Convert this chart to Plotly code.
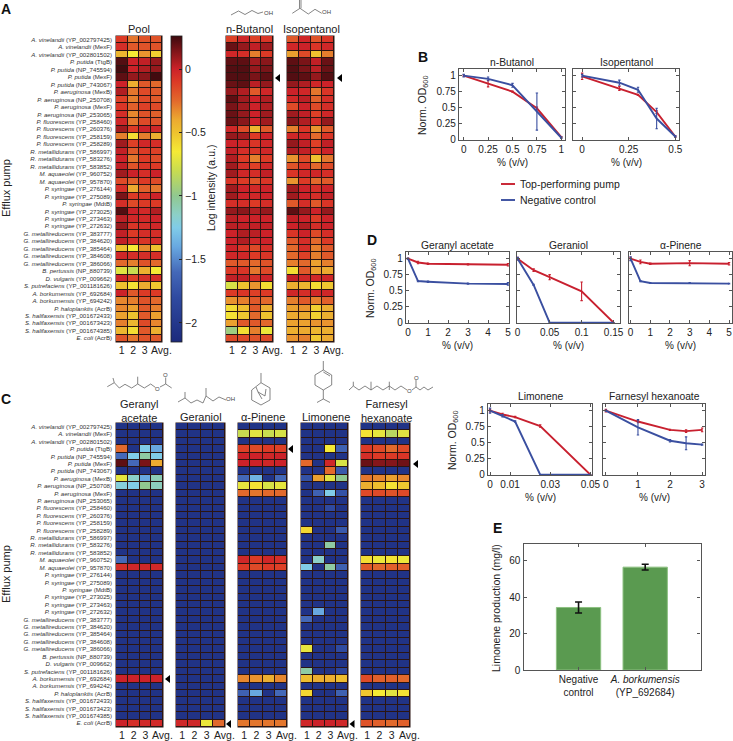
import plotly.graph_objects as go

W, H = 733, 741
PUMPS = [
 ("A. vinelandii","YP_002797425"),("A. vinelandii","MexF"),("A. vinelandii","YP_002801502"),
 ("P. putida","TtgB"),("P. putida","NP_745594"),("P. putida","MexF"),("P. putida","NP_743067"),
 ("P. aeruginosa","MexB"),("P. aeruginosa","NP_250708"),("P. aeruginosa","MexF"),("P. aeruginosa","NP_253065"),
 ("P. fluorescens","YP_258460"),("P. fluorescens","YP_260376"),("P. fluorescens","YP_258159"),("P. fluorescens","YP_258289"),
 ("R. metallidurans","YP_586997"),("R. metallidurans","YP_583276"),("R. metallidurans","YP_583852"),
 ("M. aquaeolei","YP_960752"),("M. aquaeolei","YP_957870"),
 ("P. syringae","YP_276144"),("P. syringae","YP_275089"),("P. syringae","MdtB"),("P. syringae","YP_273025"),("P. syringae","YP_273463"),("P. syringae","YP_272632"),
 ("G. metallireducens","YP_383777"),("G. metallireducens","YP_384620"),("G. metallireducens","YP_385464"),("G. metallireducens","YP_384608"),("G. metallireducens","YP_386066"),
 ("B. pertussis","NP_880739"),("D. vulgaris","YP_009662"),("S. putrefaciens","YP_001181626"),
 ("A. borkumensis","YP_692684"),("A. borkumensis","YP_694242"),("P. haloplanktis","AcrB"),
 ("S. halifaxensis","YP_001672433"),("S. halifaxensis","YP_001673423"),("S. halifaxensis","YP_001674385"),("E. coli","AcrB"),
]
REPLICATES = ["1", "2", "3", "Avg."]

POOL = [
 [-0.1,-0.28,-0.18,-0.18],[-0.05,-0.2,-0.18,-0.18],[-0.45,-0.65,-0.35,-0.55],[0.22,0.0,0.02,0.1],
 [0.25,0.0,0.05,0.1],[0.2,0.1,0.12,0.25],[0.0,-0.42,-0.2,-0.25],[0.05,-0.28,-0.15,-0.2],
 [-0.12,-0.3,-0.15,-0.2],[-0.08,-0.22,-0.12,-0.15],[-0.05,-0.32,-0.18,-0.22],[-0.02,-0.28,-0.15,-0.18],
 [0.08,-0.1,0.0,-0.02],[-0.3,-0.6,-0.3,-0.42],[0.08,-0.12,-0.02,-0.05],[0.02,-0.2,-0.1,-0.12],
 [0.0,-0.28,-0.1,-0.15],[0.02,-0.18,-0.08,-0.1],[0.08,0.0,-0.05,0.0],[-0.15,-0.22,-0.1,-0.15],
 [-0.05,-0.4,-0.22,-0.28],[0.15,-0.1,-0.08,0.0],[-0.05,-0.15,-0.1,-0.1],[0.22,0.0,-0.03,0.05],
 [0.03,-0.02,-0.03,0.0],[0.1,-0.08,-0.05,-0.02],[0.02,-0.1,-0.05,-0.05],[0.02,-0.05,-0.08,-0.05],
 [-0.5,-0.65,-0.33,-0.5],[-0.02,-0.05,-0.05,-0.05],[-0.25,-0.3,-0.18,-0.25],[-0.72,-0.8,-0.42,-0.65],
 [0.0,-0.12,-0.05,-0.05],[-0.5,-0.62,-0.4,-0.52],[0.0,-0.2,-0.1,-0.1],[-0.32,-0.3,-0.18,-0.25],
 [-0.32,-0.38,-0.2,-0.3],[-0.38,-0.5,-0.2,-0.38],[-0.3,-0.45,-0.15,-0.32],[-0.45,-0.6,-0.2,-0.42],
 [-0.18,-0.28,-0.18,-0.2],
]
BUTANOL = [
 [-0.12,-0.02,-0.12,-0.08],[0.18,0.1,0.02,0.08],[-0.02,-0.05,-0.3,-0.1],[0.2,0.2,0.08,0.12],
 [0.22,0.22,0.1,0.15],[0.22,0.22,0.15,0.2],[0.18,0.2,0.03,0.1],[0.1,0.05,-0.2,-0.02],
 [0.2,0.08,0.0,0.05],[0.15,0.08,0.0,0.05],[0.18,0.1,0.0,0.08],[0.18,0.12,0.0,0.08],
 [-0.02,-0.15,-0.45,-0.2],[0.1,0.08,-0.1,0.0],[0.0,-0.02,-0.08,-0.02],[0.02,-0.05,-0.08,-0.02],
 [0.05,-0.1,-0.3,-0.1],[0.08,-0.05,-0.12,-0.02],[0.08,-0.02,-0.05,0.02],[-0.08,-0.1,-0.18,-0.08],
 [0.08,0.0,-0.03,0.0],[0.08,0.0,-0.02,0.0],[-0.05,-0.05,-0.1,-0.05],[0.1,0.12,0.05,0.1],
 [0.03,0.0,0.0,0.0],[0.03,0.02,0.02,0.02],[0.0,0.05,0.03,0.0],[0.0,0.05,-0.02,0.0],
 [0.0,-0.08,-0.15,-0.05],[-0.02,-0.02,-0.1,-0.08],[-0.2,-0.2,-0.25,-0.18],[-0.1,-0.08,-0.28,-0.15],
 [0.02,0.02,-0.05,0.0],[-0.75,-0.5,-0.35,-0.6],[-0.1,-0.08,-0.12,-0.1],[-0.35,-0.3,-0.2,-0.25],
 [-0.6,-0.48,-0.2,-0.42],[-0.62,-0.52,-0.25,-0.5],[-0.38,-0.2,-0.2,-0.25],[-0.95,-0.6,-0.3,-0.68],
 [-0.15,-0.15,-0.18,-0.15],
]
ISOPENTANOL = [
 [-0.2,-0.02,-0.18,-0.08],[-0.02,0.0,-0.08,-0.02],[-0.38,-0.15,-0.5,-0.3],[0.2,0.15,0.02,0.18],
 [0.22,0.15,0.03,0.18],[0.22,0.2,0.1,0.22],[0.1,0.05,-0.02,0.0],[0.0,-0.02,-0.28,-0.08],
 [-0.03,0.03,-0.22,-0.05],[-0.15,0.0,-0.15,-0.05],[0.08,0.02,-0.12,-0.02],[0.12,0.05,-0.05,0.1],
 [-0.3,-0.08,-0.35,-0.2],[-0.02,-0.02,-0.25,-0.08],[0.1,0.02,-0.12,0.02],[0.05,0.02,-0.1,0.0],
 [-0.35,-0.15,-0.5,-0.28],[-0.18,-0.08,-0.25,-0.15],[-0.08,-0.02,-0.02,-0.05],[-0.35,-0.1,-0.25,-0.2],
 [0.08,0.0,-0.05,0.0],[0.08,0.0,-0.05,0.02],[-0.2,-0.05,-0.2,-0.08],[0.2,0.1,0.0,0.1],
 [0.02,0.0,-0.1,0.0],[0.0,0.05,-0.05,0.0],[-0.08,0.0,-0.15,-0.05],[-0.2,-0.05,-0.25,-0.1],
 [-0.25,-0.05,-0.3,-0.2],[-0.25,-0.12,-0.3,-0.2],[-0.3,-0.25,-0.38,-0.3],[-0.6,-0.2,-0.38,-0.4],
 [0.02,-0.02,-0.02,-0.02],[-0.42,-0.45,-0.6,-0.52],[-0.02,-0.05,-0.02,-0.02],[-0.3,-0.2,-0.3,-0.22],
 [-0.38,-0.35,-0.55,-0.42],[-0.4,-0.4,-0.55,-0.42],[-0.38,-0.38,-0.35,-0.35],[-0.42,-0.4,-0.45,-0.42],
 [-0.35,-0.3,-0.52,-0.4],
]
NO_SIGNAL = -2.05
n = NO_SIGNAL
GERANYL_ACETATE_HITS = {3:[-0.25,n,-1.25,-1.4],4:[-1.6,-1.25,-1.05,-1.25],5:[0.2,-1.6,0.15,-0.4],
 7:[-0.7,-1.15,-1.4,-1.1],8:[-1.2,-1.25,-1.0,-1.12],18:[-1.6,n,n,n],19:[-0.05,-0.02,-0.02,-0.03],
 34:[0.0,0.0,0.0,0.0],40:[0.0,-0.05,-0.03,-0.03]}
GERANIOL_HITS = {40:[-0.02,-0.02,-0.68,-0.25]}
PINENE_HITS = {1:[-0.8,-0.72,-0.8,-0.75],3:[-0.12,-0.15,-0.1,-0.12],4:[0.0,0.0,-0.02,0.0],5:[0.0,0.0,-0.02,0.0],
 7:[-1.6,-1.35,n,-1.6],8:[-0.7,-0.62,-0.75,-0.7],9:[-0.25,-0.28,-0.25,-0.25],18:[-0.02,-0.1,-0.02,-0.05],
 19:[-0.1,-0.15,-0.1,-0.12],34:[-0.32,-0.35,-0.42,-0.32],36:[-1.65,-1.4,n,-1.6],40:[-0.28,-0.28,-0.28,-0.28]}
LIMONENE_HITS = {3:[n,n,-0.65,-1.65],5:[-0.25,n,-0.02,-0.75],6:[n,n,-0.25,-1.7],7:[-1.75,-0.38,-0.72,-1.0],
 9:[n,-1.65,-1.25,-1.75],11:[n,n,-1.8,n],14:[-0.58,n,n,-1.7],16:[n,n,-1.05,n],18:[n,-1.15,n,n],
 19:[-1.25,n,-1.05,-1.65],25:[n,-1.4,n,n],26:[-1.6,n,n,n],30:[-0.7,n,n,-1.8],33:[-1.05,n,n,-1.85],
 34:[-0.48,-0.42,-0.42,-0.48],36:[-0.58,n,n,-1.65],40:[-0.02,0.0,0.0,-0.02]}
FARNESYL_HITS = {1:[-0.62,-0.7,-0.85,-0.72],3:[-0.1,-0.15,-0.25,-0.15],4:[-0.05,-0.1,-0.1,-0.08],5:[0.18,0.13,0.13,0.17],
 7:[-0.28,-0.32,-0.38,-0.32],8:[-0.42,-0.48,-0.62,-0.52],9:[-0.15,-0.15,-0.18,-0.15],18:[-0.6,-0.68,-0.62,-0.68],
 19:[-0.2,-0.25,-0.22,-0.22],34:[-0.15,-0.22,-0.22,-0.25],36:[-0.52,-0.65,-0.72,-0.62],40:[-0.18,-0.22,-0.25,-0.22]}

BUT_X = [0,0.25,0.5,0.75,1]
BUT_TOP = [1,0.875,0.75,0.49,0.04];  BUT_TOP_E = [0.01,0.05,0.01,0.02,0.01]
BUT_NEG = [1,0.95,0.85,0.44,0.03];   BUT_NEG_E = [0.02,0.03,0.03,0.29,0.01]
ISO_X = [0,0.2,0.3,0.4,0.5]
ISO_TOP = [0.99,0.8,0.7,0.43,0.05];  ISO_TOP_E = [0.05,0.03,0.01,0.02,0.01]
ISO_NEG = [1,0.89,0.78,0.33,0.05];   ISO_NEG_E = [0.02,0.04,0.04,0.16,0.01]
GA_X = [0,0.5,1,3,5]
GA_TOP = [1,0.94,0.92,0.91,0.905];   GA_TOP_E = [0.01,0.02,0.01,0.01,0.02]
GA_NEG = [1,0.65,0.64,0.61,0.605];   GA_NEG_E = [0.01,0.01,0.01,0.01,0.02]
GOL_X = [0,0.025,0.05,0.1,0.15]
GOL_TOP = [1,0.82,0.71,0.49,0.0];    GOL_TOP_E = [0.02,0.02,0.04,0.145,0.0]
GOL_NEG = [1,0.59,0.0,0.0,0.0];      GOL_NEG_E = [0.02,0.01,0.0,0.0,0.0]
PIN_X = [0,0.5,1,3,5]
PIN_TOP = [1,0.95,0.92,0.93,0.92];   PIN_TOP_E = [0.02,0.03,0.01,0.04,0.02]
PIN_NEG = [1,0.65,0.62,0.62,0.61];   PIN_NEG_E = [0.03,0.01,0.005,0.005,0.005]
LIM_X = [0,0.00625,0.0125,0.025,0.05]
LIM_TOP = [1,0.94,0.9,0.76,0.0];     LIM_TOP_E = [0.02,0.02,0.01,0.02,0.0]
LIM_NEG = [1,0.92,0.83,0.0,0.0];     LIM_NEG_E = [0.04,0.02,0.01,0.0,0.0]
FAR_X = [0,1,2,2.5,3]
FAR_TOP = [1,0.83,0.7,0.68,0.7];     FAR_TOP_E = [0.02,0.02,0.01,0.02,0.03]
FAR_NEG = [1,0.74,0.53,0.49,0.47];   FAR_NEG_E = [0.01,0.12,0.02,0.1,0.01]

BAR_LABELS = ["Negative<br>control", "<i>A. borkumensis</i><br>(YP_692684)"]
BAR_VALUES = [34.4, 56.6]
BAR_ERRORS = [3.0, 1.6]

RED, BLUE = "#c8202f", "#3a4fa0"
AXC, TXT = "#555555", "#222222"
FONT = "Liberation Sans"
GRID = "#2b1512"
COLORSCALE_STOPS = [(0.26,"#3c0a0e"),(0.15,"#7a1418"),(0.05,"#b01e22"),(0,"#cc2229"),(-0.1,"#dc3a26"),
 (-0.25,"#e2692c"),(-0.4,"#ecaa30"),(-0.5,"#eec22f"),(-0.65,"#f5ea35"),(-0.8,"#c8dc50"),(-1.0,"#90c890"),
 (-1.15,"#8cd0c8"),(-1.25,"#80cce8"),(-1.4,"#68a8e0"),(-1.6,"#4468b8"),(-1.8,"#2f4aa0"),(-2.15,"#1c2a7c")]
CMIN, CMAX = -2.15, 0.26
colorscale = sorted([[(v-CMIN)/(CMAX-CMIN), c] for v, c in COLORSCALE_STOPS])

px = lambda x: x / W
py = lambda y: 1 - y / H

def expand(hits):
    return [hits.get(i, [NO_SIGNAL]*4) for i in range(len(PUMPS))]

fig = go.Figure()
shapes, anns = [], []
axn = [0]

def ann(text, x, y, size=10.5, angle=0, color=TXT, xanchor="center", bold=False):
    anns.append(dict(text=f"<b>{text}</b>" if bold else text, x=px(x), y=py(y), xref="paper", yref="paper",
                     showarrow=False, font=dict(size=size, color=color, family=FONT), textangle=angle,
                     xanchor=xanchor, yanchor="middle", align="center"))

def new_axes(x0, x1, y0, y1):
    axn[0] += 1
    k = axn[0]
    xa, ya = f"xaxis{k}", f"yaxis{k}"
    common = dict(showgrid=False, zeroline=False)
    fig.layout[xa] = dict(domain=[px(x0), px(x1)], anchor=f"y{k}", **common)
    fig.layout[ya] = dict(domain=[py(y1), py(y0)], anchor=f"x{k}", **common)
    return k, xa, ya

def heat(z, x0, x1, y0, y1, labels=False):
    k, xa, ya = new_axes(x0, x1, y0, y1)
    shapes.append(dict(type="rect", xref="paper", yref="paper", x0=px(x0-0.5), x1=px(x1+0.5), y0=py(y1+0.5), y1=py(y0-0.5),
                       fillcolor=GRID, line=dict(width=0), layer="below"))
    fig.add_trace(go.Heatmap(z=z, xgap=1, ygap=1, coloraxis="coloraxis", xaxis=f"x{k}", yaxis=f"y{k}", hoverinfo="skip"))
    fig.layout[xa].update(range=[-0.5,3.5], tickvals=[0,1,2,3.45], ticktext=REPLICATES, ticks="", showline=False,
                          tickfont=dict(size=10.5, color=TXT, family=FONT))
    fig.layout[ya].update(range=[40.5,-0.5], ticks="", showline=False)
    if labels:
        fig.layout[ya].update(tickmode="array", tickvals=list(range(len(PUMPS))),
            ticktext=[f"<i>{s}</i> ({p})" for s, p in PUMPS], ticklabelstandoff=3,
            tickfont=dict(size=6.1, color="#333333", family=FONT))
    else:
        fig.layout[ya].update(showticklabels=False)

# Panel A
YA0, YA1 = 36, 342
heat(POOL, 116, 162, YA0, YA1, True)
heat(BUTANOL, 226, 273, YA0, YA1)
heat(ISOPENTANOL, 287, 334, YA0, YA1)
# Panel C
YC0, YC1 = 423, 727
heat(expand(GERANYL_ACETATE_HITS), 116, 163, YC0, YC1, True)
heat(expand(GERANIOL_HITS), 176, 225, YC0, YC1)
heat(expand(PINENE_HITS), 238, 287, YC0, YC1)
heat(expand(LIMONENE_HITS), 301, 348, YC0, YC1)
heat(expand(FARNESYL_HITS), 361, 410, YC0, YC1)

def curve(title, xs, top, top_e, neg, neg_e, x0, x1, y0, y1, xr, xticks, xlabels, show_y):
    k, xa, ya = new_axes(x0, x1, y0, y1)
    for vals, errs, col in ((top, top_e, RED), (neg, neg_e, BLUE)):
        fig.add_trace(go.Scatter(x=xs, y=vals, mode="lines", line=dict(color=col, width=1.9),
            error_y=dict(type="data", array=errs, color=col, thickness=1.1, width=1.2),
            xaxis=f"x{k}", yaxis=f"y{k}", showlegend=False, cliponaxis=False, hoverinfo="skip"))
    base = dict(showline=True, linecolor=AXC, linewidth=1.3, mirror="ticks", ticks="inside", ticklen=3,
                tickcolor=AXC, tickwidth=0.8, tickfont=dict(size=10, color=TXT, family=FONT))
    fig.layout[xa].update(range=xr, tickvals=xticks, ticktext=xlabels, **base)
    fig.layout[ya].update(range=[-0.005,1.104], tickvals=[0,0.25,0.5,0.75,1], ticktext=["0","0.25","0.5","0.75","1"],
                          showticklabels=show_y, **base)
    ann(title, (x0+x1)/2, y0-7, 10.3)
    ann("% (v/v)", (x0+x1)/2, y1+22, 10)

# Panel B
curve("n-Butanol", BUT_X, BUT_TOP, BUT_TOP_E, BUT_NEG, BUT_NEG_E, 459, 565, 69, 140, [-0.048,1.038],
      [0,0.25,0.5,0.75,1], ["0","0.25","0.5","0.75","1"], True)
curve("Isopentanol", ISO_X, ISO_TOP, ISO_TOP_E, ISO_NEG, ISO_NEG_E, 573, 679, 69, 140, [-0.049,0.52],
      [0,0.25,0.5], ["0","0.25","0.5"], False)
# Panel D
curve("Geranyl acetate", GA_X, GA_TOP, GA_TOP_E, GA_NEG, GA_NEG_E, 406, 509, 252, 323, [-0.1,5.05],
      [0,1,2,3,4,5], ["0","1","2","3","4","5"], True)
curve("Geraniol", GOL_X, GOL_TOP, GOL_TOP_E, GOL_NEG, GOL_NEG_E, 517, 620, 252, 323, [-0.001,0.16],
      [0,0.05,0.1,0.15], ["0","0.05","0.1","0.15"], False)
curve("α-Pinene", PIN_X, PIN_TOP, PIN_TOP_E, PIN_NEG, PIN_NEG_E, 629, 732, 252, 323, [-0.08,5.15],
      [0,1,2,3,4,5], ["0","1","2","3","4","5"], False)
curve("Limonene", LIM_X, LIM_TOP, LIM_TOP_E, LIM_NEG, LIM_NEG_E, 488, 592, 404, 475, [-0.001,0.0508],
      [0,0.01,0.03,0.05], ["0","0.01","0.03","0.05"], True)
curve("Farnesyl hexanoate", FAR_X, FAR_TOP, FAR_TOP_E, FAR_NEG, FAR_NEG_E, 603, 705, 404, 475, [-0.09,3.09],
      [0,1,2,3], ["0","1","2","3"], False)

# Panel E
k, xa, ya = new_axes(523.5, 700.5, 543.5, 670)
fig.add_trace(go.Bar(x=[0,1], y=BAR_VALUES, width=0.665, marker=dict(color="#5a9a50", line=dict(color="#8cc080", width=1)),
    error_y=dict(type="data", array=BAR_ERRORS, color="#111111", thickness=1.6, width=3.5),
    xaxis=f"x{k}", yaxis=f"y{k}", showlegend=False, hoverinfo="skip"))
ebase = dict(showline=True, linecolor=AXC, linewidth=1.3, tickcolor=AXC, tickwidth=0.8, ticklen=3,
             tickfont=dict(size=10, color=TXT, family=FONT))
fig.layout[xa].update(range=[-0.826,1.83], tickvals=[0,1], ticktext=BAR_LABELS, mirror="ticks", ticks="inside", **ebase)
fig.layout[ya].update(range=[0,69.6], tickvals=[0,20,40,60], mirror="ticks", ticks="inside", **ebase)

# Colorbar
layout_coloraxis = dict(colorscale=colorscale, cmin=CMIN, cmax=CMAX, colorbar=dict(
    x=px(171), xanchor="left", xpad=0, y=py(36), yanchor="top", ypad=0, len=306, lenmode="pixels",
    thickness=11, thicknessmode="pixels", outlinecolor="#222222", outlinewidth=0.8,
    tickmode="array", tickvals=[0,-0.5,-1,-1.5,-2], ticktext=["0","−0.5","−1","−1.5","−2"],
    ticks="inside", ticklen=3, tickcolor="#222222", tickfont=dict(size=10.5, color=TXT, family=FONT)))

# Text
for t, x, y in (("A",6,9),("B",423,57),("C",6,399),("D",372,240),("E",497,528)):
    ann(t, x, y, 14, bold=True, color="#111111")
for t, x in (("Pool",139),("n-Butanol",249.5),("Isopentanol",311)):
    ann(t, x, 29, 11)
for t, x in (("Geranyl<br>acetate",139),("Geraniol",201),("α-Pinene",263),("Limonene",326),("Farnesyl<br>hexanoate",386)):
    ann(t, x, 411 if "<br>" in t else 417, 11)
ann("Efflux pump", 6, 188, 11, -90)
ann("Efflux pump", 6, 574, 11, -90)
ann("Log intensity (a.u.)", 211, 188, 10.5, -90)
OD = "Norm. OD<sub>600</sub>"
ann(OD, 423, 105, 10.5, -90)
ann(OD, 371, 288, 10.5, -90)
ann(OD, 453, 440, 10.5, -90)
ann("Limonene production (mg/l)", 496, 608, 10.5, -90)

# Legend
for col, y, t in ((RED,184,"Top-performing pump"),(BLUE,200,"Negative control")):
    shapes.append(dict(type="line", xref="paper", yref="paper", x0=px(501), x1=px(515), y0=py(y), y1=py(y), line=dict(color=col, width=1.9)))
    ann(t, 518, y, 10.5, xanchor="left")

# Row markers
def tri(x, y):
    pts = [(x,y),(x+5,y-4),(x+5,y+4)]
    path = "M " + " L ".join(f"{px(a):.5f} {py(b):.5f}" for a, b in pts) + " Z"
    shapes.append(dict(type="path", path=path, xref="paper", yref="paper", fillcolor="black", line=dict(width=0)))
for x, y in ((275,78),(337,78),(165,679),(226,724),(288,449),(349.5,724),(413,464)):
    tri(x, y)

# Molecule sketches
def bond(*pts):
    path = "M " + " L ".join(f"{px(a):.5f} {py(b):.5f}" for a, b in pts)
    shapes.append(dict(type="path", path=path, xref="paper", yref="paper", line=dict(color="#666666", width=0.8)))
bond((231,15),(238.5,11),(245,14.5),(252,10.5),(258,13.5),(263,12)); ann("OH",268,13,6,color="#444")
bond((292.3,13.3),(300,8.3),(308.3,14),(315,9.3),(321.7,13.3)); bond((299.5,8.3),(299.5,0)); bond((301,8.3),(301,0)); ann("OH",326,12.5,6,color="#444")
# geranyl acetate
bond((107.3,386.7),(114.3,382.7),(119.3,388),(125,384.3),(131.7,388),(137.7,384),(144.3,388),(150.7,384),(155.5,387.5))
bond((114.3,382.7),(113,378)); bond((137.7,384),(137.7,376.7)); bond((160,387),(165.7,384),(171.7,388)); bond((165.7,384),(165.7,377.5))
ann("O",157.7,389,6,color="#444"); ann("O",165.7,375,6,color="#444")
# geraniol
bond((178,402),(185,398),(191,403),(197,400),(203,403),(206,396),(213,401),(219,397),(226,400)); bond((185,398),(185,392)); bond((206,396),(206,388)); ann("OH",230,399,6,color="#444")
# alpha-pinene
bond((261,373),(261,382.7)); bond((261,382.7),(251.7,390),(251.7,400),(261,405),(270,400),(270,388),(261,382.7))
bond((258,392),(265,396)); bond((256,387),(258,392),(262,399)); bond((265,396),(266,389))
# limonene
bond((323.3,361),(323.3,370),(331.7,375),(331.7,385),(323.3,390),(315,385),(315,375),(323.3,370))
bond((323.3,372),(330,376)); bond((323.3,390),(323.3,399)); bond((323.3,399),(317,402.5)); bond((323.3,399),(330,402.5))
# farnesyl hexanoate
bond((349,390),(353.3,386),(359,390),(365,386),(371,390),(377,386),(383,390),(389.3,386),(395,390),(401,386),(407,390))
bond((353.3,386),(353.3,381.7)); bond((371,390),(371,381.7)); bond((389.3,390),(389.3,381.7))
bond((412,390),(416,387),(420,390),(424,387),(428,390),(433,387)); bond((416,387),(416,380))
ann("O",409.5,391,6,color="#444"); ann("O",416,378,6,color="#444")

fig.update_layout(width=W, height=H, margin=dict(l=0,r=0,t=0,b=0,autoexpand=False), paper_bgcolor="white", plot_bgcolor="white",
                  showlegend=False, coloraxis=layout_coloraxis, shapes=shapes, annotations=anns)
fig.write_html("out.html", config={"displayModeBar": False},
               post_script="document.body.style.margin='0';document.documentElement.style.overflow='hidden';")
